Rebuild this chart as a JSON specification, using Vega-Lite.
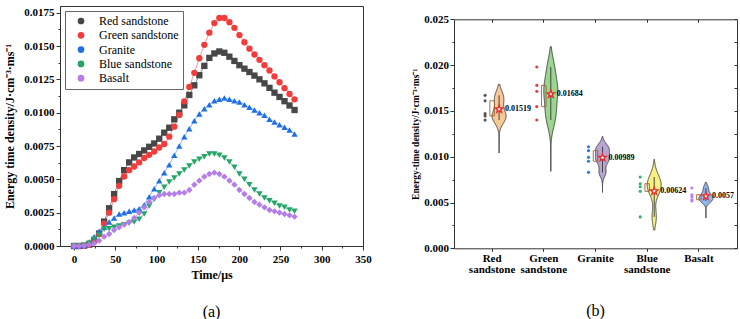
{
  "$schema": "https://vega.github.io/schema/vega-lite/v6.json",
  "padding": {"left": 3, "top": 5, "right": 5, "bottom": 0},
  "spacing": 38,
  "config": {
    "font": "Liberation Serif",
    "view": {"stroke": "#333", "strokeWidth": 1},
    "axis": {"labelFont": "Liberation Serif", "labelFontWeight": "bold", "labelFontSize": 11, "labelColor": "#000", "titleFont": "Liberation Serif", "titleFontWeight": "bold", "titleColor": "#000", "domainColor": "#333", "tickColor": "#333", "grid": false, "labelFlush": false, "labelOverlap": false},
    "title": {"font": "Liberation Serif", "fontWeight": "normal", "fontSize": 16, "color": "#000"}
  },
  "resolve": {"scale": {"color": "independent"}},
  "datasets": {
    "samples": [
      {"rock": "Red sandstone", "value": 0.0167}, {"rock": "Red sandstone", "value": 0.0161}, {"rock": "Red sandstone", "value": 0.0147}, {"rock": "Red sandstone", "value": 0.01445}, {"rock": "Red sandstone", "value": 0.0140},
      {"rock": "Green sandstone", "value": 0.01979}, {"rock": "Green sandstone", "value": 0.01779}, {"rock": "Green sandstone", "value": 0.01714}, {"rock": "Green sandstone", "value": 0.01546}, {"rock": "Green sandstone", "value": 0.01401},
      {"rock": "Granite", "value": 0.01109}, {"rock": "Granite", "value": 0.01066}, {"rock": "Granite", "value": 0.00993}, {"rock": "Granite", "value": 0.0095}, {"rock": "Granite", "value": 0.00829},
      {"rock": "Blue sandstone", "value": 0.00778}, {"rock": "Blue sandstone", "value": 0.00705}, {"rock": "Blue sandstone", "value": 0.00672}, {"rock": "Blue sandstone", "value": 0.00622}, {"rock": "Blue sandstone", "value": 0.00343},
      {"rock": "Basalt", "value": 0.00658}, {"rock": "Basalt", "value": 0.00585}, {"rock": "Basalt", "value": 0.0056}, {"rock": "Basalt", "value": 0.0053}, {"rock": "Basalt", "value": 0.00517}
    ],
    "means": [
      {"rock": "Red sandstone", "mean": 0.01519},
      {"rock": "Green sandstone", "mean": 0.01684},
      {"rock": "Granite", "mean": 0.00989},
      {"rock": "Blue sandstone", "mean": 0.00624},
      {"rock": "Basalt", "mean": 0.0057}
    ],
    "curves": [
      {"rock":"Red sandstone","t":0,"e":0},{"rock":"Red sandstone","t":6.07,"e":0},{"rock":"Red sandstone","t":12.14,"e":0.00002},{"rock":"Red sandstone","t":18.21,"e":0.0001},{"rock":"Red sandstone","t":24.28,"e":0.0004},{"rock":"Red sandstone","t":30.35,"e":0.00093},{"rock":"Red sandstone","t":36.42,"e":0.00183},{"rock":"Red sandstone","t":42.49,"e":0.00283},{"rock":"Red sandstone","t":48.56,"e":0.00389},{"rock":"Red sandstone","t":54.63,"e":0.00487},{"rock":"Red sandstone","t":60.7,"e":0.00569},{"rock":"Red sandstone","t":66.77,"e":0.00627},{"rock":"Red sandstone","t":72.84,"e":0.00664},{"rock":"Red sandstone","t":78.91,"e":0.0069},{"rock":"Red sandstone","t":84.98,"e":0.00717},{"rock":"Red sandstone","t":91.05,"e":0.00744},{"rock":"Red sandstone","t":97.12,"e":0.00769},{"rock":"Red sandstone","t":103.19,"e":0.00805},{"rock":"Red sandstone","t":109.26,"e":0.0085},{"rock":"Red sandstone","t":115.33,"e":0.00887},{"rock":"Red sandstone","t":121.4,"e":0.0095},{"rock":"Red sandstone","t":127.47,"e":0.01},{"rock":"Red sandstone","t":133.54,"e":0.01055},{"rock":"Red sandstone","t":139.61,"e":0.01133},{"rock":"Red sandstone","t":145.68,"e":0.01205},{"rock":"Red sandstone","t":151.75,"e":0.01281},{"rock":"Red sandstone","t":157.82,"e":0.01351},{"rock":"Red sandstone","t":163.89,"e":0.01411},{"rock":"Red sandstone","t":169.96,"e":0.01444},{"rock":"Red sandstone","t":176.03,"e":0.01459},{"rock":"Red sandstone","t":182.1,"e":0.01449},{"rock":"Red sandstone","t":188.17,"e":0.0142},{"rock":"Red sandstone","t":194.24,"e":0.01388},{"rock":"Red sandstone","t":200.31,"e":0.01356},{"rock":"Red sandstone","t":206.38,"e":0.0133},{"rock":"Red sandstone","t":212.45,"e":0.01305},{"rock":"Red sandstone","t":218.52,"e":0.01278},{"rock":"Red sandstone","t":224.59,"e":0.0125},{"rock":"Red sandstone","t":230.66,"e":0.0122},{"rock":"Red sandstone","t":236.73,"e":0.01186},{"rock":"Red sandstone","t":242.8,"e":0.0115},{"rock":"Red sandstone","t":248.87,"e":0.01118},{"rock":"Red sandstone","t":254.94,"e":0.01086},{"rock":"Red sandstone","t":261.01,"e":0.01054},{"rock":"Red sandstone","t":267.08,"e":0.0102},
      {"rock":"Green sandstone","t":0,"e":0},{"rock":"Green sandstone","t":6.07,"e":0},{"rock":"Green sandstone","t":12.14,"e":0.00002},{"rock":"Green sandstone","t":18.21,"e":0.0001},{"rock":"Green sandstone","t":24.28,"e":0.0004},{"rock":"Green sandstone","t":30.35,"e":0.0009},{"rock":"Green sandstone","t":36.42,"e":0.00168},{"rock":"Green sandstone","t":42.49,"e":0.0025},{"rock":"Green sandstone","t":48.56,"e":0.00351},{"rock":"Green sandstone","t":54.63,"e":0.00451},{"rock":"Green sandstone","t":60.7,"e":0.00521},{"rock":"Green sandstone","t":66.77,"e":0.00569},{"rock":"Green sandstone","t":72.84,"e":0.00596},{"rock":"Green sandstone","t":78.91,"e":0.00627},{"rock":"Green sandstone","t":84.98,"e":0.0066},{"rock":"Green sandstone","t":91.05,"e":0.00684},{"rock":"Green sandstone","t":97.12,"e":0.00709},{"rock":"Green sandstone","t":103.19,"e":0.00739},{"rock":"Green sandstone","t":109.26,"e":0.00765},{"rock":"Green sandstone","t":115.33,"e":0.0082},{"rock":"Green sandstone","t":121.4,"e":0.00895},{"rock":"Green sandstone","t":127.47,"e":0.00983},{"rock":"Green sandstone","t":133.54,"e":0.01085},{"rock":"Green sandstone","t":139.61,"e":0.01193},{"rock":"Green sandstone","t":145.68,"e":0.01299},{"rock":"Green sandstone","t":151.75,"e":0.01408},{"rock":"Green sandstone","t":157.82,"e":0.01509},{"rock":"Green sandstone","t":163.89,"e":0.016},{"rock":"Green sandstone","t":169.96,"e":0.01672},{"rock":"Green sandstone","t":176.03,"e":0.0171},{"rock":"Green sandstone","t":182.1,"e":0.0171},{"rock":"Green sandstone","t":188.17,"e":0.01678},{"rock":"Green sandstone","t":194.24,"e":0.01636},{"rock":"Green sandstone","t":200.31,"e":0.01582},{"rock":"Green sandstone","t":206.38,"e":0.01528},{"rock":"Green sandstone","t":212.45,"e":0.0148},{"rock":"Green sandstone","t":218.52,"e":0.01436},{"rock":"Green sandstone","t":224.59,"e":0.01396},{"rock":"Green sandstone","t":230.66,"e":0.01356},{"rock":"Green sandstone","t":236.73,"e":0.01316},{"rock":"Green sandstone","t":242.8,"e":0.01272},{"rock":"Green sandstone","t":248.87,"e":0.01228},{"rock":"Green sandstone","t":254.94,"e":0.01184},{"rock":"Green sandstone","t":261.01,"e":0.0114},{"rock":"Green sandstone","t":267.08,"e":0.011},
      {"rock":"Granite","t":0,"e":0},{"rock":"Granite","t":6.07,"e":0},{"rock":"Granite","t":12.14,"e":0.00005},{"rock":"Granite","t":18.21,"e":0.0003},{"rock":"Granite","t":24.28,"e":0.0007},{"rock":"Granite","t":30.35,"e":0.0011},{"rock":"Granite","t":36.42,"e":0.0014},{"rock":"Granite","t":42.49,"e":0.0018},{"rock":"Granite","t":48.56,"e":0.0021},{"rock":"Granite","t":54.63,"e":0.0024},{"rock":"Granite","t":60.7,"e":0.0025},{"rock":"Granite","t":66.77,"e":0.0026},{"rock":"Granite","t":72.84,"e":0.0027},{"rock":"Granite","t":78.91,"e":0.0028},{"rock":"Granite","t":84.98,"e":0.0031},{"rock":"Granite","t":91.05,"e":0.0037},{"rock":"Granite","t":97.12,"e":0.0043},{"rock":"Granite","t":103.19,"e":0.0049},{"rock":"Granite","t":109.26,"e":0.0055},{"rock":"Granite","t":115.33,"e":0.0061},{"rock":"Granite","t":121.4,"e":0.0068},{"rock":"Granite","t":127.47,"e":0.0075},{"rock":"Granite","t":133.54,"e":0.0082},{"rock":"Granite","t":139.61,"e":0.0088},{"rock":"Granite","t":145.68,"e":0.0094},{"rock":"Granite","t":151.75,"e":0.0099},{"rock":"Granite","t":157.82,"e":0.0103},{"rock":"Granite","t":163.89,"e":0.0106},{"rock":"Granite","t":169.96,"e":0.0109},{"rock":"Granite","t":176.03,"e":0.011},{"rock":"Granite","t":182.1,"e":0.0111},{"rock":"Granite","t":188.17,"e":0.011},{"rock":"Granite","t":194.24,"e":0.0109},{"rock":"Granite","t":200.31,"e":0.0108},{"rock":"Granite","t":206.38,"e":0.0106},{"rock":"Granite","t":212.45,"e":0.0104},{"rock":"Granite","t":218.52,"e":0.0102},{"rock":"Granite","t":224.59,"e":0.01},{"rock":"Granite","t":230.66,"e":0.0098},{"rock":"Granite","t":236.73,"e":0.0095},{"rock":"Granite","t":242.8,"e":0.0093},{"rock":"Granite","t":248.87,"e":0.0091},{"rock":"Granite","t":254.94,"e":0.0089},{"rock":"Granite","t":261.01,"e":0.0087},{"rock":"Granite","t":267.08,"e":0.0084},
      {"rock":"Blue sandstone","t":0,"e":0},{"rock":"Blue sandstone","t":6.07,"e":0},{"rock":"Blue sandstone","t":12.14,"e":0.00003},{"rock":"Blue sandstone","t":18.21,"e":0.0002},{"rock":"Blue sandstone","t":24.28,"e":0.0005},{"rock":"Blue sandstone","t":30.35,"e":0.0008},{"rock":"Blue sandstone","t":36.42,"e":0.00125},{"rock":"Blue sandstone","t":42.49,"e":0.0013},{"rock":"Blue sandstone","t":48.56,"e":0.0014},{"rock":"Blue sandstone","t":54.63,"e":0.0015},{"rock":"Blue sandstone","t":60.7,"e":0.0016},{"rock":"Blue sandstone","t":66.77,"e":0.0017},{"rock":"Blue sandstone","t":72.84,"e":0.0018},{"rock":"Blue sandstone","t":78.91,"e":0.002},{"rock":"Blue sandstone","t":84.98,"e":0.0024},{"rock":"Blue sandstone","t":91.05,"e":0.003},{"rock":"Blue sandstone","t":97.12,"e":0.0035},{"rock":"Blue sandstone","t":103.19,"e":0.004},{"rock":"Blue sandstone","t":109.26,"e":0.0044},{"rock":"Blue sandstone","t":115.33,"e":0.0048},{"rock":"Blue sandstone","t":121.4,"e":0.0051},{"rock":"Blue sandstone","t":127.47,"e":0.0054},{"rock":"Blue sandstone","t":133.54,"e":0.0057},{"rock":"Blue sandstone","t":139.61,"e":0.006},{"rock":"Blue sandstone","t":145.68,"e":0.0063},{"rock":"Blue sandstone","t":151.75,"e":0.0065},{"rock":"Blue sandstone","t":157.82,"e":0.0067},{"rock":"Blue sandstone","t":163.89,"e":0.0069},{"rock":"Blue sandstone","t":169.96,"e":0.0069},{"rock":"Blue sandstone","t":176.03,"e":0.0068},{"rock":"Blue sandstone","t":182.1,"e":0.0066},{"rock":"Blue sandstone","t":188.17,"e":0.0063},{"rock":"Blue sandstone","t":194.24,"e":0.0059},{"rock":"Blue sandstone","t":200.31,"e":0.0054},{"rock":"Blue sandstone","t":206.38,"e":0.005},{"rock":"Blue sandstone","t":212.45,"e":0.0046},{"rock":"Blue sandstone","t":218.52,"e":0.0042},{"rock":"Blue sandstone","t":224.59,"e":0.0039},{"rock":"Blue sandstone","t":230.66,"e":0.0036},{"rock":"Blue sandstone","t":236.73,"e":0.0034},{"rock":"Blue sandstone","t":242.8,"e":0.0032},{"rock":"Blue sandstone","t":248.87,"e":0.003},{"rock":"Blue sandstone","t":254.94,"e":0.0029},{"rock":"Blue sandstone","t":261.01,"e":0.0027},{"rock":"Blue sandstone","t":267.08,"e":0.0026},
      {"rock":"Basalt","t":0,"e":0},{"rock":"Basalt","t":6.07,"e":0},{"rock":"Basalt","t":12.14,"e":0.00002},{"rock":"Basalt","t":18.21,"e":0.0001},{"rock":"Basalt","t":24.28,"e":0.0002},{"rock":"Basalt","t":30.35,"e":0.0004},{"rock":"Basalt","t":36.42,"e":0.0007},{"rock":"Basalt","t":42.49,"e":0.0009},{"rock":"Basalt","t":48.56,"e":0.0012},{"rock":"Basalt","t":54.63,"e":0.0014},{"rock":"Basalt","t":60.7,"e":0.0016},{"rock":"Basalt","t":66.77,"e":0.0018},{"rock":"Basalt","t":72.84,"e":0.0021},{"rock":"Basalt","t":78.91,"e":0.0025},{"rock":"Basalt","t":84.98,"e":0.0029},{"rock":"Basalt","t":91.05,"e":0.0033},{"rock":"Basalt","t":97.12,"e":0.0036},{"rock":"Basalt","t":103.19,"e":0.0038},{"rock":"Basalt","t":109.26,"e":0.0039},{"rock":"Basalt","t":115.33,"e":0.0039},{"rock":"Basalt","t":121.4,"e":0.0039},{"rock":"Basalt","t":127.47,"e":0.004},{"rock":"Basalt","t":133.54,"e":0.004},{"rock":"Basalt","t":139.61,"e":0.0042},{"rock":"Basalt","t":145.68,"e":0.0046},{"rock":"Basalt","t":151.75,"e":0.0049},{"rock":"Basalt","t":157.82,"e":0.0052},{"rock":"Basalt","t":163.89,"e":0.0054},{"rock":"Basalt","t":169.96,"e":0.0055},{"rock":"Basalt","t":176.03,"e":0.0054},{"rock":"Basalt","t":182.1,"e":0.0052},{"rock":"Basalt","t":188.17,"e":0.0049},{"rock":"Basalt","t":194.24,"e":0.0046},{"rock":"Basalt","t":200.31,"e":0.0042},{"rock":"Basalt","t":206.38,"e":0.0039},{"rock":"Basalt","t":212.45,"e":0.0036},{"rock":"Basalt","t":218.52,"e":0.0033},{"rock":"Basalt","t":224.59,"e":0.0031},{"rock":"Basalt","t":230.66,"e":0.0029},{"rock":"Basalt","t":236.73,"e":0.0027},{"rock":"Basalt","t":242.8,"e":0.0026},{"rock":"Basalt","t":248.87,"e":0.0025},{"rock":"Basalt","t":254.94,"e":0.0024},{"rock":"Basalt","t":261.01,"e":0.0023},{"rock":"Basalt","t":267.08,"e":0.0022}
    ]
  },
  "hconcat": [
    {
      "width": 303,
      "height": 240,
      "title": {"text": "(a)", "orient": "bottom", "offset": 24},
      "data": {"name": "curves"},
      "encoding": {
        "x": {"field": "t", "type": "quantitative", "scale": {"domain": [-17, 350], "nice": false, "zero": false},
          "axis": {"values": [0,25,50,75,100,125,150,175,200,225,250,275,300,325,350], "labelExpr": "datum.value % 50 == 0 ? datum.label : ''", "tickSize": {"condition": {"test": "datum.value % 50 == 0", "value": 4}, "value": 2}, "labelPadding": 3, "title": "Time/μs", "titleFontSize": 12, "titlePadding": 5}},
        "y": {"field": "e", "type": "quantitative", "scale": {"domain": [0, 0.018], "nice": false},
          "axis": {"values": [0,0.00125,0.0025,0.00375,0.005,0.00625,0.0075,0.00875,0.01,0.01125,0.0125,0.01375,0.015,0.01625,0.0175], "labelExpr": "round(datum.value*800) % 2 == 0 ? format(datum.value, '.4f') : ''", "tickSize": {"condition": {"test": "round(datum.value*800) % 2 == 0", "value": 4}, "value": 2}, "labelPadding": 2, "title": "Energy time density/J·cm⁻³·ms⁻¹", "titleFontSize": 12, "titlePadding": 7}}
      },
      "layer": [
        {
          "mark": {"type": "line", "strokeWidth": 1},
          "encoding": {
            "stroke": {"field": "rock", "type": "nominal", "scale": {"domain": ["Red sandstone", "Green sandstone", "Granite", "Blue sandstone", "Basalt"], "range": ["#8c8c8c", "#f59a9a", "#8db6f2", "#8fd4ac", "#d6b8f3"]}, "legend": null}
          }
        },
        {
          "mark": {"type": "point", "filled": true, "size": 40, "opacity": 1},
          "encoding": {
            "color": {"field": "rock", "type": "nominal", "scale": {"domain": ["Red sandstone", "Green sandstone", "Granite", "Blue sandstone", "Basalt"], "range": ["#474747", "#f23b3b", "#1f6fe6", "#25a568", "#b47de8"]},
              "legend": {"orient": "top-left", "offset": 5, "title": null, "strokeColor": "#666", "fillColor": "white", "padding": 4, "labelFont": "Liberation Serif", "labelFontSize": 12, "labelColor": "#000", "symbolSize": 45, "rowPadding": 2.3, "labelOffset": 12, "symbolOffset": 6, "symbolStrokeWidth": 0}},
            "shape": {"field": "rock", "type": "nominal", "scale": {"domain": ["Red sandstone", "Green sandstone", "Granite", "Blue sandstone", "Basalt"], "range": ["square", "circle", "triangle-up", "triangle-down", "diamond"]},
              "legend": {"orient": "top-left", "offset": 5, "title": null, "strokeColor": "#666", "fillColor": "white", "padding": 4, "labelFont": "Liberation Serif", "labelFontSize": 12, "labelColor": "#000", "symbolSize": 45, "rowPadding": 2.3, "labelOffset": 12, "symbolOffset": 6, "symbolStrokeWidth": 0}}
          }
        }
      ]
    },
    {
      "width": 283,
      "height": 242.3,
      "view": {"stroke": null},
      "title": {"text": "(b)", "orient": "bottom", "offset": 29},
      "data": {"name": "samples"},
      "layer": [
        {
          "transform": [{"filter": {"field": "rock", "equal": "Red sandstone"}}, {"density": "value", "bandwidth": 0.0007, "extent": [0.0104, 0.0179]}],
          "mark": {"type": "area", "orient": "horizontal", "fill": "#f8c896", "stroke": "#444", "strokeWidth": 1},
          "encoding": {
            "y": {"field": "value", "type": "quantitative", "scale": {"domain": [0, 0.025], "nice": false, "range": [242.3, 13.3]}, "axis": null},
            "x": {"field": "density", "type": "quantitative", "stack": "center", "impute": null, "scale": {"range": [38.1, 52.1], "nice": false, "zero": true}, "axis": null}
          }
        },
        {
          "transform": [{"filter": {"field": "rock", "equal": "Green sandstone"}}, {"density": "value", "bandwidth": 0.0012, "extent": [0.0084, 0.022]}],
          "mark": {"type": "area", "orient": "horizontal", "fill": "#9bd68f", "stroke": "#444", "strokeWidth": 1},
          "encoding": {
            "y": {"field": "value", "type": "quantitative", "scale": {"domain": [0, 0.025], "nice": false, "range": [242.3, 13.3]}, "axis": null},
            "x": {"field": "density", "type": "quantitative", "stack": "center", "impute": null, "scale": {"range": [89.8, 103.8], "nice": false, "zero": true}, "axis": null}
          }
        },
        {
          "transform": [{"filter": {"field": "rock", "equal": "Granite"}}, {"density": "value", "bandwidth": 0.0005, "extent": [0.0061, 0.0122]}],
          "mark": {"type": "area", "orient": "horizontal", "fill": "#b8a5d4", "stroke": "#444", "strokeWidth": 1},
          "encoding": {
            "y": {"field": "value", "type": "quantitative", "scale": {"domain": [0, 0.025], "nice": false, "range": [242.3, 13.3]}, "axis": null},
            "x": {"field": "density", "type": "quantitative", "stack": "center", "impute": null, "scale": {"range": [141.5, 155.5], "nice": false, "zero": true}, "axis": null}
          }
        },
        {
          "transform": [{"filter": {"field": "rock", "equal": "Blue sandstone"}}, {"density": "value", "bandwidth": 0.0009, "extent": [0.002, 0.0097]}],
          "mark": {"type": "area", "orient": "horizontal", "fill": "#f7f27f", "stroke": "#444", "strokeWidth": 1},
          "encoding": {
            "y": {"field": "value", "type": "quantitative", "scale": {"domain": [0, 0.025], "nice": false, "range": [242.3, 13.3]}, "axis": null},
            "x": {"field": "density", "type": "quantitative", "stack": "center", "impute": null, "scale": {"range": [193.2, 207.2], "nice": false, "zero": true}, "axis": null}
          }
        },
        {
          "transform": [{"filter": {"field": "rock", "equal": "Basalt"}}, {"density": "value", "bandwidth": 0.00035, "extent": [0.0033, 0.0072]}],
          "mark": {"type": "area", "orient": "horizontal", "fill": "#91b7ef", "stroke": "#444", "strokeWidth": 1},
          "encoding": {
            "y": {"field": "value", "type": "quantitative", "scale": {"domain": [0, 0.025], "nice": false, "range": [242.3, 13.3]}, "axis": null},
            "x": {"field": "density", "type": "quantitative", "stack": "center", "impute": null, "scale": {"range": [244.9, 258.9], "nice": false, "zero": true}, "axis": null}
          }
        },
        {
          "mark": {"type": "rule", "stroke": "#444", "strokeWidth": 1},
          "encoding": {
            "x": {"field": "rock", "type": "nominal", "bandPosition": 0.6354, "scale": {"type": "band", "domain": ["Red sandstone", "Green sandstone", "Granite", "Blue sandstone", "Basalt"], "paddingInner": 0, "paddingOuter": 0.237}, "axis": null},
            "y": {"aggregate": "min", "field": "value", "type": "quantitative", "scale": {"domain": [0, 0.025], "nice": false, "range": [242.3, 13.3]}, "axis": null},
            "y2": {"aggregate": "max", "field": "value"}
          }
        },
        {
          "mark": {"type": "bar", "width": 4.5, "fill": "#ffffff", "fillOpacity": 0, "stroke": "#a0622d", "strokeWidth": 0.9},
          "encoding": {
            "x": {"field": "rock", "type": "nominal", "bandPosition": 0.6354, "scale": {"type": "band", "domain": ["Red sandstone", "Green sandstone", "Granite", "Blue sandstone", "Basalt"], "paddingInner": 0, "paddingOuter": 0.237}, "axis": null},
            "y": {"aggregate": "q1", "field": "value", "type": "quantitative", "scale": {"domain": [0, 0.025], "nice": false, "range": [242.3, 13.3]}, "axis": null},
            "y2": {"aggregate": "q3", "field": "value"}
          }
        },
        {
          "mark": {"type": "point", "filled": true, "size": 10, "opacity": 1},
          "encoding": {
            "x": {"field": "rock", "type": "nominal", "bandPosition": 0.3646, "scale": {"type": "band", "domain": ["Red sandstone", "Green sandstone", "Granite", "Blue sandstone", "Basalt"], "paddingInner": 0, "paddingOuter": 0.237}, "axis": null},
            "y": {"field": "value", "type": "quantitative", "scale": {"domain": [0, 0.025], "nice": false, "range": [242.3, 13.3]},
              "axis": {"orient": "left", "values": [0,0.0025,0.005,0.0075,0.01,0.0125,0.015,0.0175,0.02,0.0225,0.025], "labelExpr": "round(datum.value*400) % 2 == 0 ? format(datum.value, '.3f') : ''", "tickSize": {"condition": {"test": "round(datum.value*400) % 2 == 0", "value": 4}, "value": 2}, "labelPadding": 1.5, "title": "Energy-time density/J·cm⁻³·ms⁻¹", "titleFontSize": 9.5, "titlePadding": 3.5}},
            "color": {"field": "rock", "type": "nominal", "scale": {"domain": ["Red sandstone", "Green sandstone", "Granite", "Blue sandstone", "Basalt"], "range": ["#555555", "#f03c3c", "#2a7be2", "#2db36a", "#c080f0"]}, "legend": null}
          }
        },
        {
          "data": {"name": "means"},
          "mark": {"type": "point", "shape": "M0,-1L0.235,-0.324L0.951,-0.309L0.38,0.124L0.588,0.809L0,0.4L-0.588,0.809L-0.38,0.124L-0.951,-0.309L-0.235,-0.324Z", "size": 64, "filled": true, "fill": "white", "stroke": "#e62e2e", "strokeWidth": 1.3, "opacity": 1},
          "encoding": {
            "x": {"field": "rock", "type": "nominal", "bandPosition": 0.6354, "scale": {"type": "band", "domain": ["Red sandstone", "Green sandstone", "Granite", "Blue sandstone", "Basalt"], "paddingInner": 0, "paddingOuter": 0.237}, "axis": null},
            "y": {"field": "mean", "type": "quantitative", "scale": {"domain": [0, 0.025], "nice": false, "range": [242.3, 13.3]}, "axis": null}
          }
        },
        {
          "data": {"name": "means"},
          "mark": {"type": "text", "align": "left", "baseline": "middle", "dx": 6, "fontSize": 8, "fontWeight": "bold", "font": "Liberation Serif", "color": "#000"},
          "encoding": {
            "x": {"field": "rock", "type": "nominal", "bandPosition": 0.6354, "scale": {"type": "band", "domain": ["Red sandstone", "Green sandstone", "Granite", "Blue sandstone", "Basalt"], "paddingInner": 0, "paddingOuter": 0.237}, "axis": null},
            "y": {"field": "mean", "type": "quantitative", "scale": {"domain": [0, 0.025], "nice": false, "range": [242.3, 13.3]},
              "axis": {"orient": "right", "labels": false, "title": null, "tickSize": -3, "values": [0,0.0025,0.005,0.0075,0.01,0.0125,0.015,0.0175,0.02,0.0225,0.025]}},
            "text": {"field": "mean", "type": "quantitative", "format": ".5~f"}
          }
        },
        {
          "data": {"name": "means"},
          "mark": {"type": "tick", "opacity": 0},
          "encoding": {
            "x": {"field": "rock", "type": "nominal", "scale": {"type": "band", "domain": ["Red sandstone", "Green sandstone", "Granite", "Blue sandstone", "Basalt"], "paddingInner": 0, "paddingOuter": 0.237},
              "axis": {"orient": "bottom", "title": null, "labelExpr": "split(datum.label, ' ')", "labelAngle": 0, "tickSize": 3, "labelPadding": 1, "labelFontSize": 11, "labelLineHeight": 11, "labelBaseline": "top"}},
            "y": {"field": "mean", "type": "quantitative", "scale": {"domain": [0, 0.025], "nice": false, "range": [242.3, 13.3]}, "axis": null}
          }
        },
        {
          "data": {"name": "means"},
          "mark": {"type": "tick", "opacity": 0},
          "encoding": {
            "x": {"field": "rock", "type": "nominal", "scale": {"type": "band", "domain": ["Red sandstone", "Green sandstone", "Granite", "Blue sandstone", "Basalt"], "paddingInner": 0, "paddingOuter": 0.237},
              "axis": {"orient": "top", "offset": -13.3, "labels": false, "title": null, "tickSize": -3}},
            "y": {"field": "mean", "type": "quantitative", "scale": {"domain": [0, 0.025], "nice": false, "range": [242.3, 13.3]}, "axis": null}
          }
        }
      ],
      "resolve": {"scale": {"x": "independent"}, "axis": {"x": "independent", "y": "independent"}}
    }
  ]
}
